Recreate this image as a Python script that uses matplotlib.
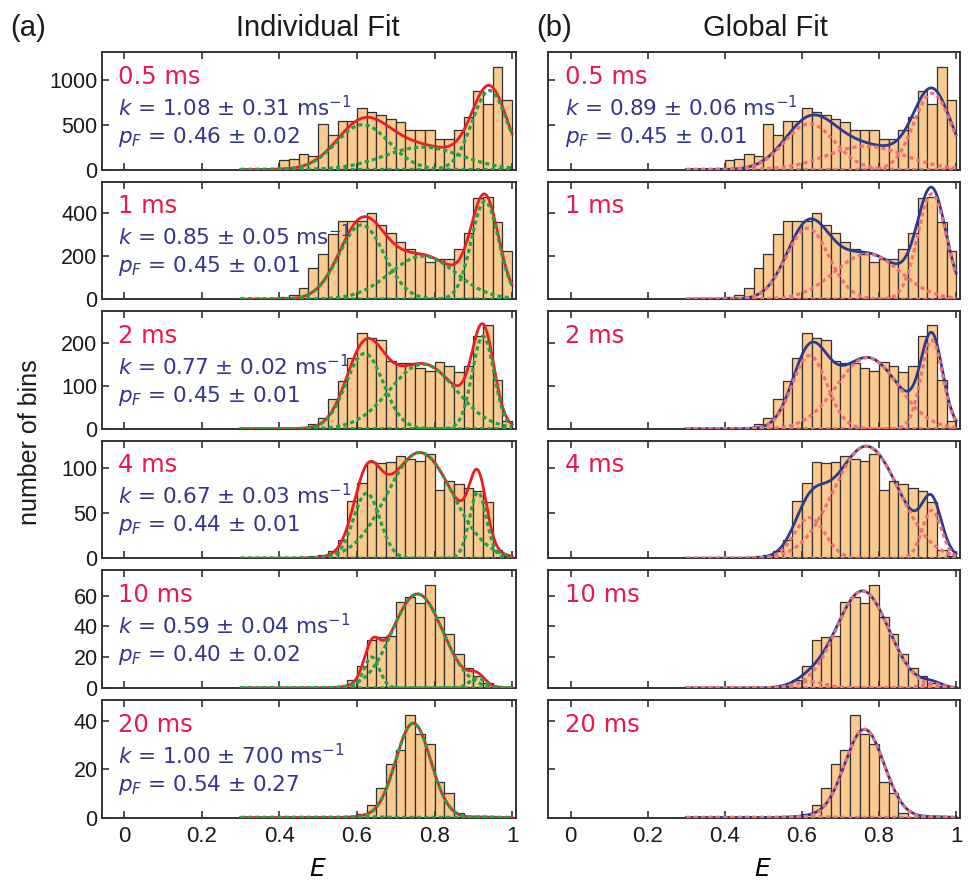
import numpy as np
import matplotlib
matplotlib.use("Agg")
import matplotlib.pyplot as plt

# histogram bins (FRET efficiency E), width 0.025 from 0.3 to 1.0
bin_edges = np.linspace(0.3, 1.0, 29)

delays = ['0.5 ms', '1 ms', '2 ms', '4 ms', '10 ms', '20 ms']

# counts per bin (same data in both columns)
counts_05 = [4, 6, 10, 15, 110, 115, 170, 155, 510, 380, 542, 542, 683, 645, 604, 563,
             530, 436, 436, 440, 336, 336, 445, 590, 870, 730, 1145, 772]
counts_1 = [0, 0, 1, 3, 8, 20, 50, 144, 212, 301, 364, 364, 364, 403, 345, 309,
            267, 235, 212, 172, 188, 188, 232, 310, 470, 475, 361, 222]
counts_2 = [0, 0, 0, 0, 1, 2, 4, 10, 25, 70, 110, 165, 222, 210, 207, 158,
            153, 152, 140, 133, 154, 145, 132, 146, 215, 240, 112, 18]
counts_4 = [0, 0, 0, 0, 0, 0, 1, 2, 4, 8, 20, 63, 83, 107, 105, 107,
            113, 110, 108, 115, 76, 86, 82, 78, 75, 62, 9, 2]
counts_10 = [0, 0, 0, 0, 0, 0, 0, 0, 0, 0, 1, 5, 14, 31, 33, 34,
             56, 59, 55, 67, 46, 35, 22, 13, 8, 3, 1, 0]
counts_20 = [0, 0, 0, 0, 0, 0, 0, 0, 0, 0, 0, 0, 1.5, 5, 12, 22,
             28, 42.5, 34.5, 30.5, 14.5, 10, 2, 0, 0, 0, 0, 0]
counts = [counts_05, counts_1, counts_2, counts_4, counts_10, counts_20]

# fit components (amplitude, centre, width)
ind_amp = [[500, 250, 880], [345, 200, 455], [175, 150, 215],
           [72, 117, 73], [20, 61, 6.5], [0.3, 39, 0.2]]
ind_cen = [[0.615, 0.77, 0.942], [0.612, 0.77, 0.93], [0.62, 0.77, 0.925],
           [0.625, 0.762, 0.912], [0.638, 0.756, 0.91], [0.62, 0.745, 0.92]]
ind_wid = [[0.068, 0.10, 0.045], [0.058, 0.085, 0.035], [0.048, 0.085, 0.028],
           [0.034, 0.085, 0.022], [0.02, 0.065, 0.02], [0.03, 0.045, 0.02]]

glob_amp = [[510, 260, 850], [330, 210, 490], [170, 165, 205],
            [45, 124, 53], [4, 63, 3], [0.5, 36.5, 0.3]]
glob_cen = [[0.62, 0.765, 0.938], [0.615, 0.77, 0.937], [0.62, 0.77, 0.937],
            [0.62, 0.767, 0.937], [0.62, 0.757, 0.937], [0.62, 0.762, 0.937]]
glob_wid = [[0.065, 0.10, 0.048], [0.055, 0.085, 0.037], [0.045, 0.08, 0.028],
            [0.04, 0.085, 0.025], [0.04, 0.068, 0.025], [0.04, 0.051, 0.025]]

ind_k = ['1.08 ± 0.31', '0.85 ± 0.05', '0.77 ± 0.02', '0.67 ± 0.03', '0.59 ± 0.04', '1.00 ± 700']
ind_pf = ['0.46 ± 0.02', '0.45 ± 0.01', '0.45 ± 0.01', '0.44 ± 0.01', '0.40 ± 0.02', '0.54 ± 0.27']
glob_k = '0.89 ± 0.06'
glob_pf = '0.45 ± 0.01'

y_max = [1310, 547, 273, 130, 76.3, 48.6]
y_ticks = [[0, 500, 1000], [0, 200, 400], [0, 100, 200], [0, 50, 100], [0, 20, 40, 60], [0, 20, 40]]

# fonts
plt.rcParams['font.family'] = ['Liberation Sans', 'DejaVu Sans']
plt.rcParams['mathtext.fontset'] = 'custom'
plt.rcParams['mathtext.rm'] = 'DejaVu Sans'
plt.rcParams['mathtext.it'] = 'DejaVu Sans:italic'
panel_font = ['DejaVu Sans']

bar_face = '#fbca8f'
bar_edge = '#303030'
lab_col = '#e8194f'
txt_col = '#34358c'
red = '#ee1c25'
green = '#1fa345'
blue = '#2b3a8f'
pink = '#f07078'
spine_col = '#333333'


def gauss(x, a, c, s):
    return a * np.exp(-(x - c) ** 2 / (2 * s ** 2))


fig = plt.figure(figsize=(9.73, 8.82), dpi=100)
W, H = 973.0, 882.0
col_x = [(101.7, 516.0), (548.3, 960.0)]
row_top0, row_step, row_h = 52.0, 129.6, 117.5

xs = np.linspace(0.3, 1.0, 400)
widths = np.diff(bin_edges)

for c in range(2):
    for r in range(6):
        top = row_top0 + r * row_step
        x0, x1 = col_x[c]
        ax = fig.add_axes([x0 / W, 1 - (top + row_h) / H, (x1 - x0) / W, row_h / H])
        ax.bar(bin_edges[:-1], counts[r], width=widths, align='edge',
               color=bar_face, edgecolor=bar_edge, linewidth=0.9, zorder=1)

        if c == 0:
            amps, cens, wids = ind_amp[r], ind_cen[r], ind_wid[r]
            tot_col, comp_col = red, green
        else:
            amps, cens, wids = glob_amp[r], glob_cen[r], glob_wid[r]
            tot_col, comp_col = blue, pink
        comps = [gauss(xs, a, m, s) for a, m, s in zip(amps, cens, wids)]
        ax.plot(xs, np.sum(comps, axis=0), color=tot_col, lw=2.0, zorder=3)
        for comp in comps:
            ax.plot(xs, comp, color=comp_col, lw=2.3, ls=(0, (1.3, 1.0)), zorder=4)

        ax.set_xlim(-0.058, 1.01)
        ax.set_ylim(0, y_max[r])
        ax.set_xticks([0, 0.2, 0.4, 0.6, 0.8, 1.0])
        ax.set_yticks(y_ticks[r])
        ax.tick_params(direction='in', top=True, right=False, length=5, width=1.2,
                       colors=spine_col, labelcolor='#1a1a1a')
        ax.tick_params(axis='y', labelsize=15.5, pad=3)
        ax.tick_params(axis='x', labelsize=16, pad=6)
        for sp in ax.spines.values():
            sp.set_color(spine_col)
            sp.set_linewidth(1.4)
        if r < 5:
            ax.set_xticklabels([])
        else:
            ax.set_xticklabels(['0', '0.2', '0.4', '0.6', '0.8', '1'])
            ax.set_xlabel('$E$', fontsize=18, labelpad=2)
            ax.xaxis.set_label_coords(0.522, -0.34)
        if c == 1:
            ax.set_yticklabels([])

        ax.text(0.04, 0.79, delays[r], transform=ax.transAxes, color=lab_col,
                fontsize=17.5, va='center', ha='left', family=panel_font, zorder=5)
        if c == 0:
            kt, pt = ind_k[r], ind_pf[r]
        elif r == 0:
            kt, pt = glob_k, glob_pf
        else:
            kt = pt = None
        if kt is not None:
            ax.text(0.04, 0.53, '$k$ = ' + kt + ' ms$^{-1}$', transform=ax.transAxes,
                    color=txt_col, fontsize=15.5, va='center', ha='left',
                    family=panel_font, zorder=5)
            ax.text(0.04, 0.28, '$p_F$ = ' + pt, transform=ax.transAxes,
                    color=txt_col, fontsize=15.5, va='center', ha='left',
                    family=panel_font, zorder=5)

fig.text(10 / W, 1 - 28 / H, '(a)', fontsize=21, va='center', ha='left', color='#1a1a1a')
fig.text(536 / W, 1 - 28 / H, '(b)', fontsize=21, va='center', ha='left', color='#1a1a1a')
fig.text(318 / W, 1 - 28 / H, 'Individual Fit', fontsize=21, va='center', ha='center',
         color='#1a1a1a')
fig.text(765 / W, 1 - 28 / H, 'Global Fit', fontsize=21, va='center', ha='center',
         color='#1a1a1a')
fig.text(30 / W, 1 - 442 / H, 'number of bins', fontsize=18, va='center', ha='center',
         rotation=90, color='#1a1a1a')

fig.savefig('out.png', dpi=100)
